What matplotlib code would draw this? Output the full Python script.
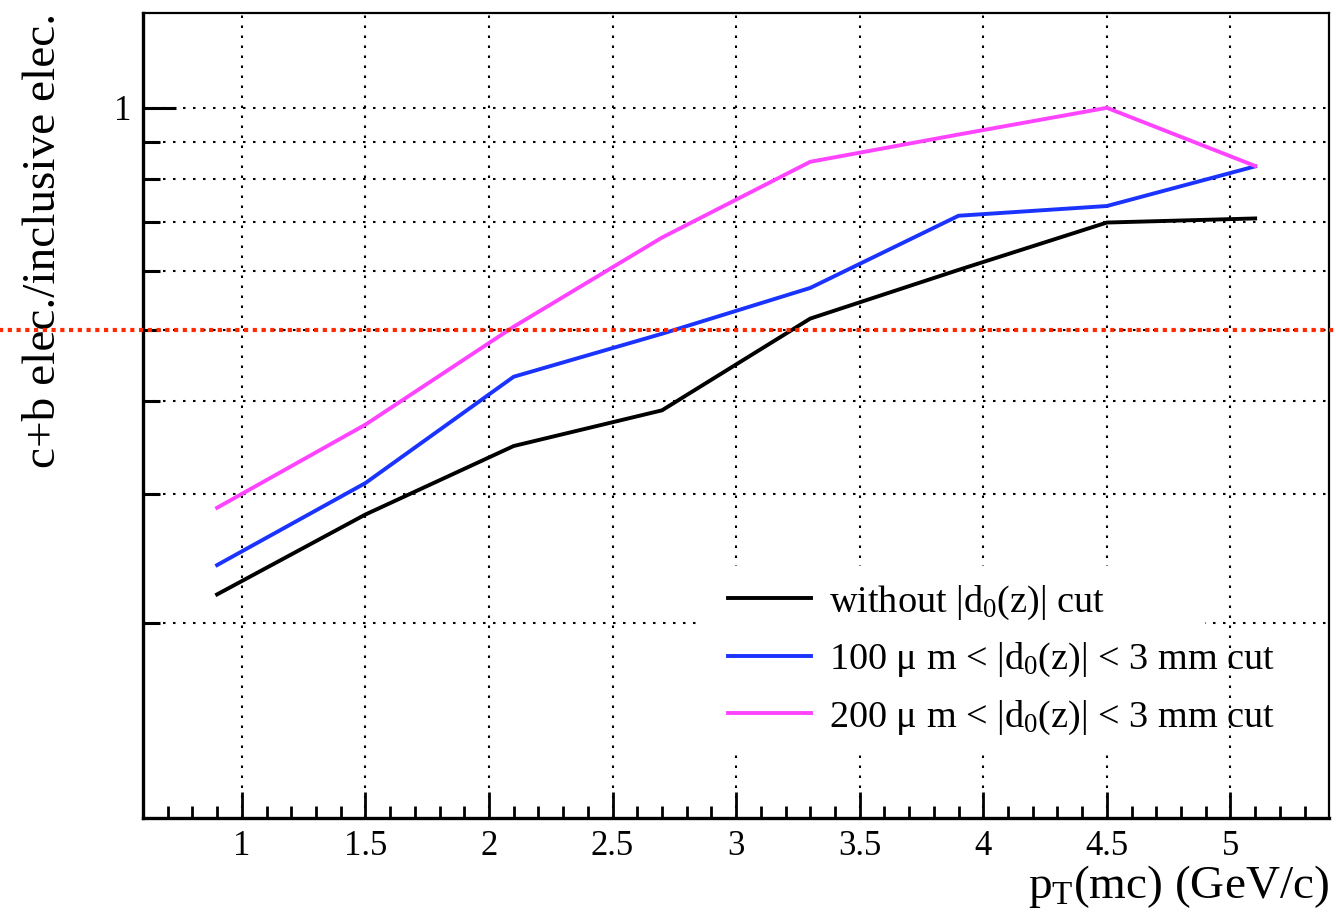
import matplotlib
matplotlib.use("Agg")
import matplotlib.pyplot as plt
from matplotlib.ticker import FixedLocator, FixedFormatter, NullFormatter
from matplotlib.patches import Rectangle

# -----------------------------
# Data
# -----------------------------
pt = [0.9, 1.5, 2.1, 2.7, 3.3, 3.9, 4.5, 5.1]
no_cut = [0.219, 0.281, 0.348, 0.389, 0.518, 0.603, 0.699, 0.708]
cut_100 = [0.240, 0.310, 0.432, 0.494, 0.570, 0.714, 0.736, 0.833]
cut_200 = [0.287, 0.372, 0.505, 0.667, 0.845, 0.920, 1.000, 0.834]

labels = [r"without |d$_{0}$(z)| cut",
          r"100 $\mu$ m < |d$_{0}$(z)| < 3 mm cut",
          r"200 $\mu$ m < |d$_{0}$(z)| < 3 mm cut"]
colors = ["black", "#1a33ff", "#ff44ff"]

x_grid = [1, 1.5, 2, 2.5, 3, 3.5, 4, 4.5, 5]
y_grid = [0.2, 0.3, 0.4, 0.5, 0.6, 0.7, 0.8, 0.9, 1.0]
ref_level = 0.5

# -----------------------------
# Style
# -----------------------------
plt.rcParams["font.family"] = ["Liberation Serif", "DejaVu Serif"]
plt.rcParams["mathtext.fontset"] = "custom"
plt.rcParams["mathtext.rm"] = "Liberation Serif"
plt.rcParams["mathtext.it"] = "Liberation Serif"
plt.rcParams["mathtext.default"] = "rm"

fig = plt.figure(figsize=(13.36, 9.17), dpi=100)
ax = fig.add_axes([0.107, 0.108, 0.888, 0.878])

ax.set_yscale("log")
ax.set_xlim(0.6, 5.4)
ax.set_ylim(0.109, 1.345)

# grid drawn by hand so the legend box can cover part of it
dots = (0, (1.2, 3.6))
for xv in x_grid:
    ax.axvline(xv, color="black", lw=1.5, ls=dots, zorder=3 if xv == 5 else 1)
for yv in y_grid:
    ax.axhline(yv, color="black", lw=1.5, ls=dots, zorder=1)

# white legend box (hides grid)
ax.add_patch(Rectangle((0.47, 0.078), 0.425, 0.235, transform=ax.transAxes,
                       facecolor="white", edgecolor="none", zorder=2))

for y, c, lab in zip([no_cut, cut_100, cut_200], colors, labels):
    ax.plot(pt, y, color=c, lw=2.8, label=lab, zorder=4)

ax.axhline(ref_level, xmin=-0.13, xmax=1.01, color="#ff2a00", lw=3.0,
           ls=(0, (1, 1.1)), clip_on=False, zorder=5)

# ticks
ax.xaxis.set_major_locator(FixedLocator(x_grid))
ax.xaxis.set_major_formatter(FixedFormatter(["1", "1.5", "2", "2.5", "3", "3.5", "4", "4.5", "5"]))
ax.xaxis.set_minor_locator(FixedLocator([0.7 + 0.1 * i for i in range(47)]))
ax.yaxis.set_major_locator(FixedLocator([1.0]))
ax.yaxis.set_major_formatter(FixedFormatter(["1"]))
ax.yaxis.set_minor_locator(FixedLocator(y_grid[:-1]))
ax.yaxis.set_minor_formatter(NullFormatter())

ax.tick_params(axis="x", which="major", direction="in", length=19, width=2.0,
               labelsize=25, pad=9)
ax.tick_params(axis="x", which="minor", direction="in", length=8.5, width=2.0)
ax.tick_params(axis="y", which="major", direction="in", length=24, width=2.2,
               labelsize=25, pad=8)
ax.tick_params(axis="y", which="minor", direction="in", length=12, width=2.2)

for side in ["left", "bottom"]:
    ax.spines[side].set_linewidth(2.4)
for side in ["top", "right"]:
    ax.spines[side].set_linewidth(1.6)

ax.set_xlabel(r"p$_{\mathrm{T}}$(mc) (GeV/c)", fontsize=34, loc="right")
ax.xaxis.set_label_coords(1.0, -0.056)
ax.set_ylabel("c+b elec./inclusive elec.", fontsize=34, loc="top")
ax.yaxis.set_label_coords(-0.066, 1.0)

ax.legend(loc="upper left", bbox_to_anchor=(0.48, 0.31), frameon=False,
          fontsize=27.5, handlelength=2.17, handletextpad=0.47, labelspacing=0.5,
          borderaxespad=0)

fig.savefig("out.png", dpi=100)
plt.close()
